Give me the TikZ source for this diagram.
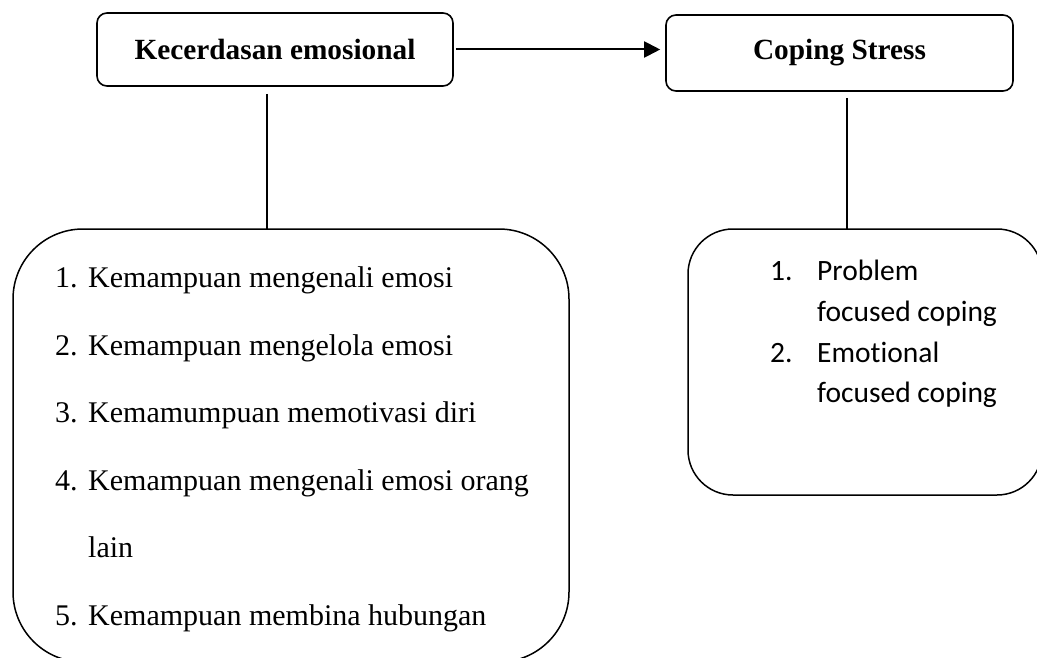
\documentclass[tikz,border=0pt]{standalone}
\usepackage{fontspec}
\setmainfont{Liberation Serif}
\newfontfamily\calibri[Ligatures={NoCommon,NoRequired}]{Carlito}
\usetikzlibrary{arrows.meta}
\begin{document}
\begin{tikzpicture}[x=1pt,y=-1pt,
  headbox/.style={draw,line width=1.6pt,rounded corners=10pt,inner sep=0pt,
    font=\fontsize{29.3}{34}\selectfont\bfseries},
  bigbox/.style={draw,line width=1.5pt,inner sep=0pt},
  listtext/.style={anchor=base west,inner sep=0pt,font=\fontsize{30}{35}\selectfont},
  copetext/.style={anchor=base west,inner sep=0pt,font=\calibri\fontsize{29.5}{34}\selectfont},
  link/.style={line width=1.6pt}]
\useasboundingbox (0,0) rectangle (1037,658);
\clip (0,0) rectangle (1037,658);
% header boxes
\node[headbox,minimum width=356pt,minimum height=73pt] (ke) at (275,49.5) {Kecerdasan emosional};
\node[headbox,minimum width=347pt,minimum height=76pt] (cs) at (839.5,53) {Coping Stress};
% big boxes
\node[bigbox,rounded corners=70pt,minimum width=556pt,minimum height=433pt] (kl) at (291,445.5) {};
\node[bigbox,rounded corners=45pt,minimum width=354pt,minimum height=266pt] (cl) at (865,362) {};
% connectors
\draw[line width=2pt,-{Triangle[length=16pt,width=16pt]},shorten <=2pt,shorten >=5pt] (ke.east) -- (ke.east -| cs.west);
\coordinate (kt) at (267,229);
\coordinate (ct) at (847,229);
\draw[link,shorten <=7pt] (ke.south -| kt) -- (kt);
\draw[link,shorten <=6pt] (cs.south -| ct) -- (ct);
% left list
\node[listtext] (n1) at (55,287.5) {1.};
\node[listtext] (t1) at (88,287.5) {Kemampuan mengenali emosi};
\node[listtext] (n2) at (55,355) {2.};
\node[listtext] (t2) at (88,355) {Kemampuan mengelola emosi};
\node[listtext] (n3) at (55,422.5) {3.};
\node[listtext] (t3) at (88,422.5) {Kemamumpuan memotivasi diri};
\node[listtext] (n4) at (55,490) {4.};
\node[listtext] (t4) at (88,490) {Kemampuan mengenali emosi orang};
\node[listtext] (t4b) at (88,557.5) {lain};
\node[listtext] (n5) at (55,625) {5.};
\node[listtext] (t5) at (88,625) {Kemampuan membina hubungan};
% right list
\node[copetext] (m1) at (770,280) {1.};
\node[copetext] (p1) at (817,280) {Problem};
\node[copetext] (p1b) at (817,321) {focused coping};
\node[copetext] (m2) at (770,362) {2.};
\node[copetext] (p2) at (817,362) {Emotional};
\node[copetext] (p2b) at (817,402) {focused coping};
\end{tikzpicture}
\end{document}
